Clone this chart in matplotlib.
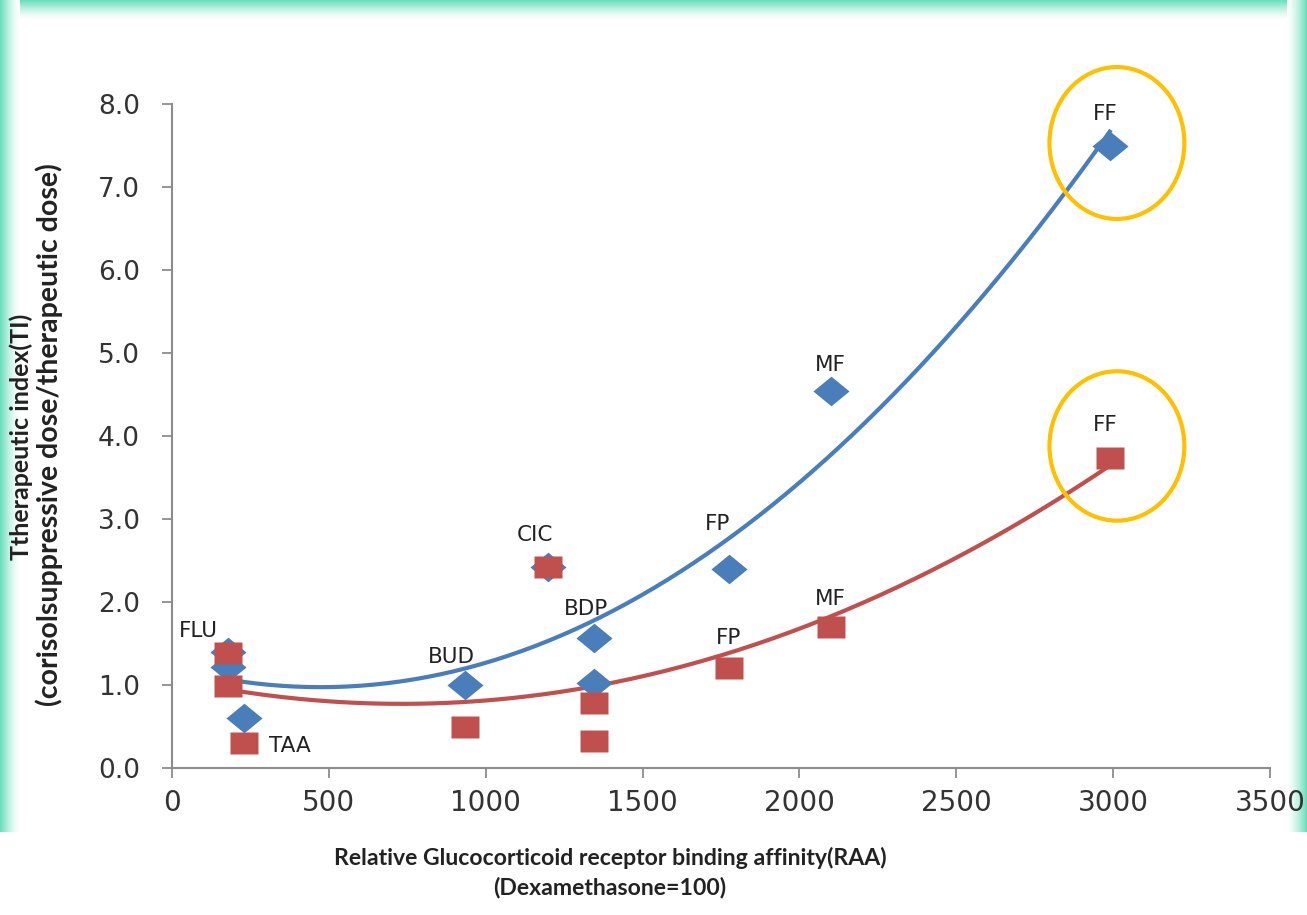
import numpy as np
import matplotlib.pyplot as plt
from matplotlib.patches import Ellipse

# relative receptor affinity (RAA) per measured point
raa = [180, 180, 230, 935, 1200, 1345, 1345, 1775, 2100, 2989]
# therapeutic index, blue series (diamonds)
ti_blue = [1.40, 1.22, 0.60, 1.00, 2.42, 1.57, 1.02, 2.40, 4.54, 7.49]
# therapeutic index, red series (squares)
ti_red = [1.38, 0.99, 0.30, 0.49, 2.42, 0.78, 0.33, 1.20, 1.70, 3.73]

blue_labels = ["FLU", "", "", "BUD", "CIC", "BDP", "", "FP", "MF", "FF"]
red_labels = ["", "", "TAA", "", "", "", "", "FP", "MF", "FF"]

xticks = [0, 500, 1000, 1500, 2000, 2500, 3000, 3500]
yticks = [0.0, 1.0, 2.0, 3.0, 4.0, 5.0, 6.0, 7.0, 8.0]

BLUE = "#4a7ebb"
RED = "#c0504d"
GOLD = "#ffc000"

# markers are a bit wider than tall in the picture
diamond = [(-1, 0), (0, 0.82), (1, 0), (0, -0.82), (-1, 0)]
square = [(-1, -0.82), (1, -0.82), (1, 0.82), (-1, 0.82), (-1, -0.82)]

fig = plt.figure(figsize=(13.07, 9.15), dpi=100)

# teal frame (left, top, right), fading towards the inside
bg = fig.add_axes([0, 0, 1, 1], zorder=-10)
bg.set_xlim(0, 1307)
bg.set_ylim(915, 0)
bg.axis("off")
teal = np.array([0.42, 0.87, 0.74])
for i in range(20):
    a = (1 - i / 20) ** 1.5
    c = tuple(teal * a + (1 - a))
    bg.fill_between([i, i + 1], 0, 832, color=c, lw=0)
    bg.fill_between([1306 - i, 1307 - i], 0, 832, color=c, lw=0)
    bg.fill_between([i + 1, 1306 - i], i, i + 1, color=c, lw=0)

ax = fig.add_axes([172 / 1307, 1 - 768 / 915, 1098 / 1307, 664 / 915])
ax.set_xlim(0, 3500)
ax.set_ylim(0, 8)

# 2nd order trend lines, same as the original spreadsheet
xs = np.linspace(min(raa), max(raa), 200)
pb = np.polyfit(raa, ti_blue, 2)
pr = np.polyfit(raa, ti_red, 2)
ax.plot(xs, np.polyval(pb, xs), color=BLUE, lw=3, zorder=2)
ax.plot(xs, np.polyval(pr, xs), color=RED, lw=3, zorder=2)

ax.plot(raa, ti_blue, ls="none", marker=diamond, color=BLUE, ms=26, mec="none", zorder=3)
ax.plot(raa, ti_red, ls="none", marker=square, color=RED, ms=20, mec="none", zorder=4)

blue_off = {"FLU": (-22, 15), "BUD": (-10, 20), "CIC": (-10, 23), "BDP": (-6, 21),
            "FP": (-8, 32), "MF": (0, 19), "FF": (-3, 23)}
red_off = {"TAA": (33, -2), "FP": (0, 22), "MF": (0, 20), "FF": (-3, 24)}
for x, y, lab in zip(raa, ti_blue, blue_labels):
    if lab:
        ax.annotate(lab, (x, y), xytext=blue_off[lab], textcoords="offset points",
                    ha="center", va="center", fontsize=15.5, color="#222222")
for x, y, lab in zip(raa, ti_red, red_labels):
    if lab:
        ax.annotate(lab, (x, y), xytext=red_off[lab], textcoords="offset points",
                    ha="center", va="center", fontsize=15.5, color="#222222")

ax.add_patch(Ellipse((3012, 7.53), 430, 1.83, fill=False, ec=GOLD, lw=3, zorder=5, clip_on=False))
ax.add_patch(Ellipse((3012, 3.88), 430, 1.80, fill=False, ec=GOLD, lw=3, zorder=5, clip_on=False))

for s in ["top", "right"]:
    ax.spines[s].set_visible(False)
for s in ["left", "bottom"]:
    ax.spines[s].set_color("#8c8c8c")
    ax.spines[s].set_linewidth(1.5)

ax.set_xticks(xticks)
ax.set_xticklabels([str(t) for t in xticks], fontsize=20, color="#333333")
ax.set_yticks(yticks)
ax.set_yticklabels(["%.1f" % t for t in yticks], fontsize=19, color="#333333")
ax.tick_params(axis="both", length=7, width=1.3, color="#8c8c8c")
ax.tick_params(axis="x", pad=8)
ax.tick_params(axis="y", pad=16)

lab_font = dict(family="Lato", fontweight="bold", color="#222222")
fig.text(610 / 1307, 1 - 858 / 915, "Relative Glucocorticoid receptor binding affinity(RAA)",
         ha="center", va="center", fontsize=16.6, **lab_font)
fig.text(610 / 1307, 1 - 888 / 915, "(Dexamethasone=100)",
         ha="center", va="center", fontsize=16.6, **lab_font)
fig.text(21 / 1307, 1 - 437 / 915, "Ttherapeutic index(TI)", rotation=90,
         ha="center", va="center", fontsize=18, **lab_font)
fig.text(49 / 1307, 1 - 435 / 915, "(corisolsuppressive dose/therapeutic dose)", rotation=90,
         ha="center", va="center", fontsize=20.5, **lab_font)

fig.savefig("out.png", dpi=100)
